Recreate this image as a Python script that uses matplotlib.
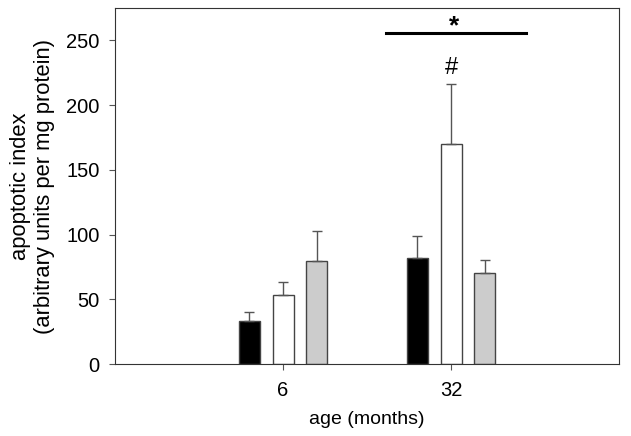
import numpy as np
import matplotlib.pyplot as plt

plt.rcParams['font.family'] = ['Liberation Sans', 'DejaVu Sans']

ages = ['6', '32']
black_vals = [33, 82]
black_err = [7, 17]
white_vals = [53.5, 170]
white_err = [9.5, 46]
gray_vals = [79.5, 70]
gray_err = [23, 10]

x = np.array([1, 2])
w = 0.125
off = 0.2

fig = plt.figure(figsize=(6.31, 4.36), dpi=100)
ax = fig.add_axes([0.1823, 0.165, 0.7987, 0.8167])

ekw = dict(ecolor='#555555', elinewidth=1, capsize=3.5, capthick=1)
for vals, err, col, dx in [(black_vals, black_err, 'black', -off),
                           (white_vals, white_err, 'white', 0),
                           (gray_vals, gray_err, '#cccccc', off)]:
    ax.bar(x + dx, vals, width=w, color=col, edgecolor='#444444', linewidth=1,
           yerr=[np.zeros(len(err)), err], error_kw=ekw, zorder=2)

# significance marks
ax.plot([1.615, 2.444], [255.5, 255.5], color='black', lw=2.2)
ax.text(2.02, 261, '*', ha='center', va='center', fontsize=19, fontweight='bold')
ax.text(2.0, 229, '#', ha='center', va='center', fontsize=17)

ax.set_xlim(0, 3)
ax.set_ylim(0, 275)
ax.set_xticks(x)
ax.set_xticklabels(ages)
ax.set_yticks([0, 50, 100, 150, 200, 250])
ax.tick_params(axis='both', labelsize=14.5, length=4, color='#555555')
ax.tick_params(axis='x', pad=8)
ax.tick_params(axis='y', pad=7)
ax.set_xlabel('age (months)', fontsize=14, labelpad=8)
ax.set_ylabel('apoptotic index\n(arbitrary units per mg protein)', fontsize=15.8,
              labelpad=8)
for s in ax.spines.values():
    s.set_color('#333333')

fig.savefig('out.png', dpi=100)
